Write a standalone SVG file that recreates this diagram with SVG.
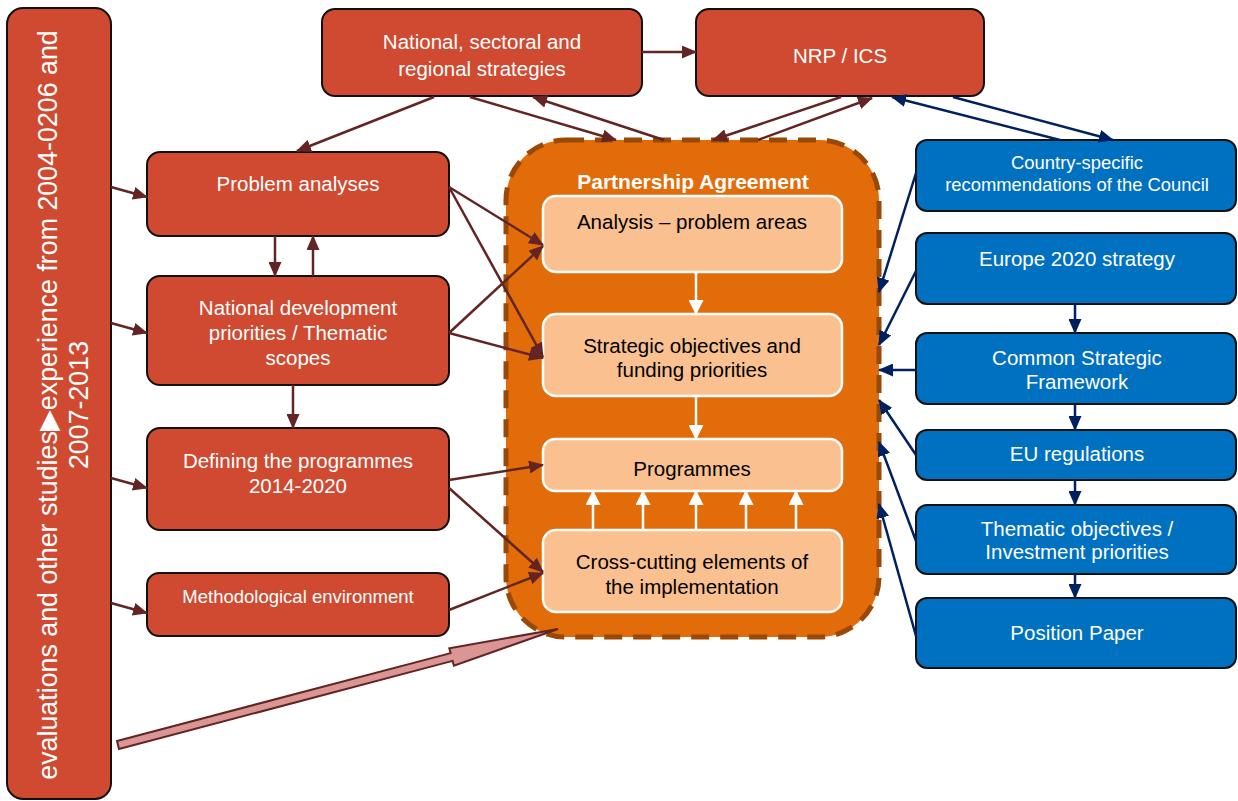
<svg xmlns="http://www.w3.org/2000/svg" width="1238" height="801" viewBox="0 0 1238 801">
<style>
.red{fill:#CF4A30;stroke:#111;stroke-width:2}
.blue{fill:#0070C0;stroke:#111;stroke-width:2}
.inner{fill:#FAC090;stroke:#fff;stroke-width:2.5}
.wt{fill:#fff;font-family:"Liberation Sans",Arial,sans-serif;font-size:20.5px;text-anchor:middle}
.bt{fill:#000;font-family:"Liberation Sans",Arial,sans-serif;font-size:20.5px;text-anchor:middle}
.cr{stroke:#632523;stroke-width:2.5;fill:none;marker-end:url(#ar)}
.cb{stroke:#002060;stroke-width:2.5;fill:none;marker-end:url(#ab)}
.cw{stroke:#fff;stroke-width:2.5;fill:none;marker-end:url(#aw)}
</style>
<defs>
<marker id="ar" markerWidth="15" markerHeight="13" refX="14" refY="6.5" orient="auto" markerUnits="userSpaceOnUse"><path d="M0,0 L15,6.5 L0,13 z" fill="#632523"/></marker>
<marker id="ab" markerWidth="15" markerHeight="13" refX="14" refY="6.5" orient="auto" markerUnits="userSpaceOnUse"><path d="M0,0 L15,6.5 L0,13 z" fill="#002060"/></marker>
<marker id="aw" markerWidth="15" markerHeight="15" refX="14" refY="7.5" orient="auto" markerUnits="userSpaceOnUse"><path d="M0,0 L15,7.5 L0,15 z" fill="#fff"/></marker>
</defs>
<rect width="1238" height="801" fill="#fff"/>

<g id="experience">
<rect class="red" x="7" y="8" width="104" height="791" rx="16"/>
<text class="wt" transform="rotate(-90)" style="font-size:26.8px"><tspan x="-405" y="57">evaluations and other studies▶experience from 2004-0206 and</tspan><tspan x="-405" y="88">2007-2013</tspan></text>
</g>

<g id="national-strategies">
<rect class="red" x="322" y="9" width="320" height="87" rx="13"/>
<text class="wt"><tspan x="482" y="49">National, sectoral and</tspan><tspan x="482" y="76">regional strategies</tspan></text>
</g>

<g id="nrp">
<rect class="red" x="696" y="9" width="288" height="87" rx="13"/>
<text class="wt" x="840" y="63">NRP / ICS</text>
</g>

<g id="problem-analyses">
<rect class="red" x="147" y="152" width="302" height="84" rx="13"/>
<text class="wt" x="298" y="191">Problem analyses</text>
</g>

<g id="national-dev">
<rect class="red" x="147" y="276" width="302" height="109" rx="13"/>
<text class="wt"><tspan x="298" y="315">National development</tspan><tspan x="298" y="340">priorities / Thematic</tspan><tspan x="298" y="365">scopes</tspan></text>
</g>

<g id="defining">
<rect class="red" x="147" y="428" width="302" height="102" rx="13"/>
<text class="wt"><tspan x="298" y="468">Defining the programmes</tspan><tspan x="298" y="493">2014-2020</tspan></text>
</g>

<g id="methodological">
<rect class="red" x="147" y="573" width="302" height="63" rx="12"/>
<text class="wt" x="298" y="603" style="font-size:18.5px">Methodological environment</text>
</g>

<g id="partnership-agreement">
<rect x="506" y="140" width="373" height="497" rx="60" fill="#E36C0A" stroke="#984807" stroke-width="5" stroke-dasharray="18,11"/>
<text class="wt" x="693" y="189" style="font-weight:bold;font-size:21px">Partnership Agreement</text>
</g>

<g id="analysis">
<rect class="inner" x="543" y="196" width="299" height="76" rx="13"/>
<text class="bt" x="692" y="229">Analysis – problem areas</text>
</g>

<g id="strategic">
<rect class="inner" x="543" y="314" width="299" height="82" rx="13"/>
<text class="bt"><tspan x="692" y="353">Strategic objectives and</tspan><tspan x="692" y="377">funding priorities</tspan></text>
</g>

<g id="programmes">
<rect class="inner" x="543" y="439" width="299" height="52" rx="12"/>
<text class="bt" x="692" y="476">Programmes</text>
</g>

<g id="cross-cutting">
<rect class="inner" x="543" y="530" width="299" height="82" rx="13"/>
<text class="bt"><tspan x="692" y="569">Cross-cutting elements of</tspan><tspan x="692" y="594">the implementation</tspan></text>
</g>

<g id="country-specific">
<rect class="blue" x="916" y="140" width="320" height="71" rx="11"/>
<text class="wt" style="font-size:18.4px"><tspan x="1077" y="169">Country-specific</tspan><tspan x="1077" y="191">recommendations of the Council</tspan></text>
</g>

<g id="europe2020">
<rect class="blue" x="916" y="233" width="320" height="71" rx="11"/>
<text class="wt" x="1077" y="266">Europe 2020 strategy</text>
</g>

<g id="csf">
<rect class="blue" x="916" y="333" width="320" height="71" rx="11"/>
<text class="wt"><tspan x="1077" y="365">Common Strategic</tspan><tspan x="1077" y="389">Framework</tspan></text>
</g>

<g id="eu-regulations">
<rect class="blue" x="916" y="430" width="320" height="50" rx="11"/>
<text class="wt" x="1077" y="461">EU regulations</text>
</g>

<g id="thematic">
<rect class="blue" x="916" y="505" width="320" height="69" rx="11"/>
<text class="wt"><tspan x="1077" y="536">Thematic objectives /</tspan><tspan x="1077" y="559">Investment priorities</tspan></text>
</g>

<g id="position-paper">
<rect class="blue" x="916" y="598" width="320" height="70" rx="11"/>
<text class="wt" x="1077" y="640">Position Paper</text>
</g>

<g id="connectors">
<path class="cr" d="M642,52 L696,52"/>
<path class="cr" d="M434,97 L297,151"/>
<path class="cr" d="M470,97 L616,140"/>
<path class="cr" d="M664,140 L533,97"/>
<path class="cr" d="M841,97 L713,140"/>
<path class="cr" d="M758,140 L872,98"/>
<path class="cr" d="M111,187 L147,197"/>
<path class="cr" d="M111,323 L147,333"/>
<path class="cr" d="M111,478 L147,488"/>
<path class="cr" d="M111,603 L147,613"/>
<path class="cr" d="M275,236 L275,276"/>
<path class="cr" d="M313,276 L313,236"/>
<path class="cr" d="M293,385 L293,428"/>
<path class="cr" d="M449,187 L543,245"/>
<path class="cr" d="M449,187 L543,357"/>
<path class="cr" d="M449,333 L543,246"/>
<path class="cr" d="M449,333 L543,358"/>
<path class="cr" d="M449,480 L543,465"/>
<path class="cr" d="M449,488 L543,572"/>
<path class="cr" d="M449,610 L543,573"/>
<path class="cb" d="M1060,140 L892,97"/>
<path class="cb" d="M953,97 L1113,140"/>
<path class="cb" d="M916,173 L879,292"/>
<path class="cb" d="M916,271 L879,345"/>
<path class="cb" d="M916,370 L879,370"/>
<path class="cb" d="M916,455 L879,400"/>
<path class="cb" d="M916,541 L879,442"/>
<path class="cb" d="M916,636 L879,504"/>
<path class="cb" d="M1075,304 L1075,333"/>
<path class="cb" d="M1075,404 L1075,430"/>
<path class="cb" d="M1075,480 L1075,505"/>
<path class="cb" d="M1075,574 L1075,598"/>
<path class="cw" d="M696,272 L696,314"/>
<path class="cw" d="M696,396 L696,439"/>
<path class="cw" d="M593,530 L593,491"/>
<path class="cw" d="M643,530 L643,491"/>
<path class="cw" d="M696,530 L696,491"/>
<path class="cw" d="M746,530 L746,491"/>
<path class="cw" d="M796,530 L796,491"/>
<polygon points="117,741 450.6,653.1 449.3,648.3 558,629 453.9,665.7 452.6,660.9 119,749" fill="#D99694" stroke="#632523" stroke-width="2" stroke-linejoin="miter"/>
</g>
</svg>
